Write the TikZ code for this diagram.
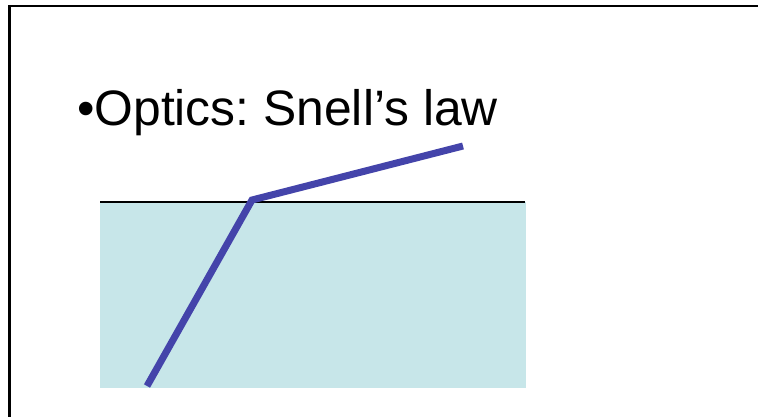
\documentclass[tikz,border=0pt]{standalone}
\usepackage{fontspec}
\setmainfont{Liberation Sans}
\frenchspacing
\definecolor{SlideInk}{HTML}{000000}
\definecolor{WaterFill}{HTML}{C7E6E9}
\definecolor{RayBlue}{HTML}{4444AA}
\tikzset{
  every node/.style={text=SlideInk, inner sep=0pt},
  slideframe/.style={draw=SlideInk, line width=2.6pt},
  water/.style={fill=WaterFill},
  surface/.style={draw=SlideInk, line width=1.4pt},
  ray/.style={draw=RayBlue, line width=7pt},
}

\begin{document}
\begin{tikzpicture}[x=1pt,y=-1pt]
  \useasboundingbox (0,0) rectangle (758,416);

  % Slide frame (runs off right and bottom)
  \draw[slideframe] (9.5,417) -- (9.5,6) -- (759,6);

  % Title
  \node[anchor=base west, font=\fontsize{49.8}{52}\selectfont] (title) at (77,125) {•Optics: Snell’s law};

  % Water block and its surface
  \fill[water] (100,202) rectangle (526,388);
  \draw[surface] (100,202) -- (525,202);

  % Refracted ray
  \coordinate (rayin) at (463,146);
  \coordinate (kink) at (252,200);
  \coordinate (rayout) at (147,386);
  \draw[ray] (rayin) -- (kink) -- (rayout);
\end{tikzpicture}
\end{document}
